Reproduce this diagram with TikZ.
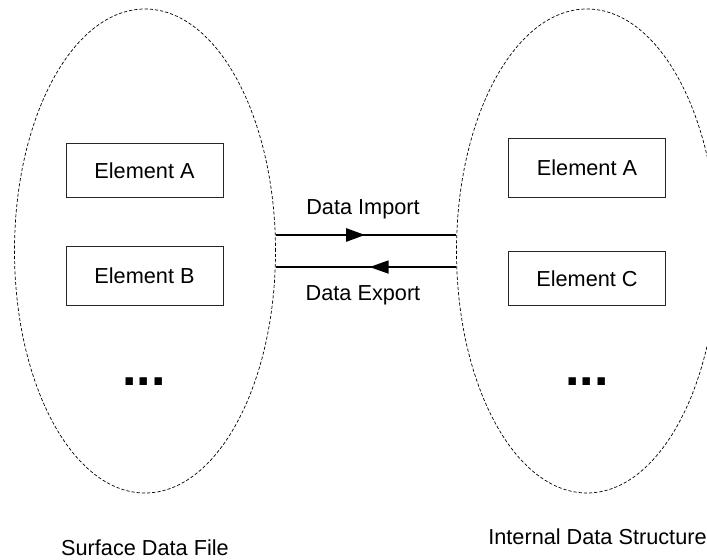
\documentclass[tikz,border=0pt]{standalone}
\usepackage{fontspec}
\setmainfont{Liberation Sans}
\usetikzlibrary{
    arrows.meta,
    positioning,
    shapes.geometric
}
\tikzset{
    % Container styles
    set ellipse/.style={
        draw,
        ellipse,
        dash pattern=on 1.6pt off 1pt,
        line width=0.35pt,
        minimum width=130.5pt,
        minimum height=242pt,
        inner sep=0pt
    },
    % Box styles
    element box/.style={
        draw=black!85,
        line width=0.5pt,
        rectangle,
        minimum width=78.5pt,
        minimum height=27pt,
        align=center
    },
    tall box/.style={
        element box,
        minimum height=29.7pt
    },
    dots label/.style={
        font=\bfseries\fontsize{26}{30}\selectfont,
        inner sep=0pt
    },
    % Arrow styles
    link line/.style={
        line width=0.9pt
    },
    flow arrow/.style={
        -{Triangle[length=9.5pt,width=6.5pt]},
        line width=0.9pt
    }
}

\begin{document}
\begin{tikzpicture}[
                x=0.5pt, y=0.5pt,
                every node/.style={font=\fontsize{10.85}{13}\selectfont, inner sep=0pt}
            ]
            \useasboundingbox (0,0) rectangle (707,559);
            \clip (0,0) rectangle (707,559);
            % the two sets
            \node[set ellipse] (surface) at (145,308) {};
            \node[set ellipse] (internal) at (587,308) {};
            % elements
            \node[element box] (surfA) at (144.5,388.7) {Element A};
            \node[element box, minimum height=29.5pt] (surfB) at (144.5,283.5) {Element B};
            \node[tall box] (intA) at (587,391) {Element A};
            \node[element box, minimum height=26.7pt] (intC) at (587,280.7) {Element C};
            \node[dots label] (surfdots) at (144,177) {...};
            \node[dots label] (intdots) at (587,177) {...};
            % titles
            \node[below=23pt of surface] (surflbl) {Surface Data File};
            \node[below=17.5pt of internal, xshift=5.25pt] (intlbl) {Internal Data Structure};
            % import / export
            \draw[link line] (surface.7) -- coordinate[pos=0.495] (imid) (internal.173);
            \draw[flow arrow, line width=1.3pt] (surface.7) -- (imid);
            \draw[link line] (internal.187) -- coordinate[pos=0.48] (emid) (surface.-7);
            \draw[flow arrow] (internal.187) -- (emid);
            \node (importlbl) at (363,350) {Data Import};
            \node (exportlbl) at (363,264) {Data Export};
\end{tikzpicture}
\end{document}
